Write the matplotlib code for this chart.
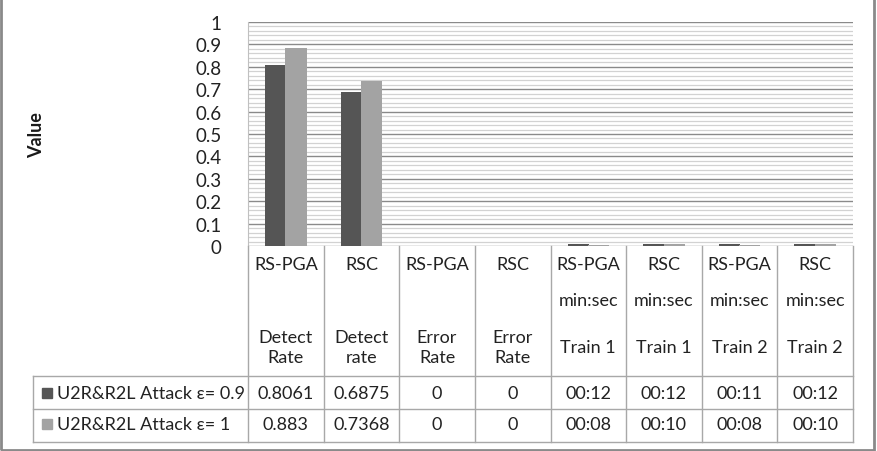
import matplotlib.pyplot as plt
import numpy as np

plt.rcParams['font.family'] = ['Lato', 'DejaVu Sans']

# data
methods = ["RS-PGA", "RSC", "RS-PGA", "RSC", "RS-PGA", "RSC", "RS-PGA", "RSC"]
units = ["", "", "", "", "min:sec", "min:sec", "min:sec", "min:sec"]
measures = ["Detect\nRate", "Detect\nrate", "Error\nRate", "Error\nRate",
            "Train 1", "Train 1", "Train 2", "Train 2"]
series_names = ["U2R&R2L Attack ε= 0.9", "U2R&R2L Attack ε= 1"]
labels_a = ["0.8061", "0.6875", "0", "0", "00:12", "00:12", "00:11", "00:12"]
labels_b = ["0.883", "0.7368", "0", "0", "00:08", "00:10", "00:08", "00:10"]
colors = ["#555555", "#a3a3a3"]


def to_value(s):
    # times are stored as fractions of a day, as in the spreadsheet
    if ":" in s:
        a, b = s.split(":")
        return (int(a) * 60 + int(b)) / 1440.0
    return float(s)


vals_a = [to_value(s) for s in labels_a]
vals_b = [to_value(s) for s in labels_b]

W, H = 877, 452
fig = plt.figure(figsize=(W / 100, H / 100), dpi=100)


def fx(x):
    return x / W


def fy(y):
    return 1 - y / H


# plot area in pixels
L, R, T, B = 248, 853, 23, 247
ax = fig.add_axes([fx(L), fy(B), fx(R) - fx(L), fy(T) - fy(B)])
x = np.arange(len(methods))
ax.bar(x - 0.135, vals_a, 0.28, color=colors[0], zorder=3)
ax.bar(x + 0.135, vals_b, 0.28, color=colors[1], zorder=3)
ax.set_xlim(-0.5, len(methods) - 0.5)
ax.set_ylim(0, 1)
ax.set_yticks(np.arange(0, 1.01, 0.1))
ax.set_yticklabels(["0", "0.1", "0.2", "0.3", "0.4", "0.5", "0.6", "0.7", "0.8", "0.9", "1"],
                   fontsize=13.5, color="#222222")
ax.set_yticks(np.arange(0, 1.001, 0.02), minor=True)
ax.grid(which="minor", axis="y", color="#d2d2d2", lw=0.9, zorder=0)
ax.grid(which="major", axis="y", color="#8a8a8a", lw=1, zorder=1)
ax.set_xticks([])
ax.tick_params(axis="y", which="both", length=0, pad=19)
for s in ["top", "right", "bottom"]:
    ax.spines[s].set_visible(False)
ax.spines["left"].set_color("#c0c0c0")

fig.text(fx(37), fy(135), "Value", rotation=90, ha="center", va="center",
         fontsize=13, fontweight="bold", color="#1a1a1a")

# data table below the axis
cw = (R - L) / len(methods)
lc = "#a8a8a8"
tc = "#222222"
r0, r1, r2, r3 = B, 377, 410, 443
for i in range(len(methods) + 1):
    xx = L + i * cw
    fig.add_artist(plt.Line2D([fx(xx), fx(xx)], [fy(r0), fy(r3)], color=lc, lw=1))
fig.add_artist(plt.Line2D([fx(33), fx(33)], [fy(r1), fy(r3)], color=lc, lw=1))
for yy in (r1, r2, r3):
    fig.add_artist(plt.Line2D([fx(33), fx(R)], [fy(yy), fy(yy)], color=lc, lw=1))

fs = 13
for i in range(len(methods)):
    cx = L + (i + 0.5) * cw
    fig.text(fx(cx), fy(265), methods[i], ha="center", va="center", fontsize=fs, color=tc)
    if units[i]:
        fig.text(fx(cx), fy(301), units[i], ha="center", va="center", fontsize=fs, color=tc)
    fig.text(fx(cx), fy(348), measures[i], ha="center", va="center", fontsize=fs,
             color=tc, linespacing=1.35)
    fig.text(fx(cx), fy(394), labels_a[i], ha="center", va="center", fontsize=fs, color=tc)
    fig.text(fx(cx), fy(425), labels_b[i], ha="center", va="center", fontsize=fs, color=tc)

for j, (name, c) in enumerate(zip(series_names, colors)):
    yy = 394 if j == 0 else 425
    fig.add_artist(plt.Rectangle((fx(42), fy(yy + 5)), fx(10), 10 / H, color=c))
    fig.text(fx(57), fy(yy), name, ha="left", va="center", fontsize=fs, color=tc)

# outer frame
fig.add_artist(plt.Rectangle((fx(1), fy(451)), fx(873), fy(1) - fy(451) + 2 / H,
                             fill=False, ec="#8a8a8a", lw=2))

fig.savefig("out.png", dpi=100)
